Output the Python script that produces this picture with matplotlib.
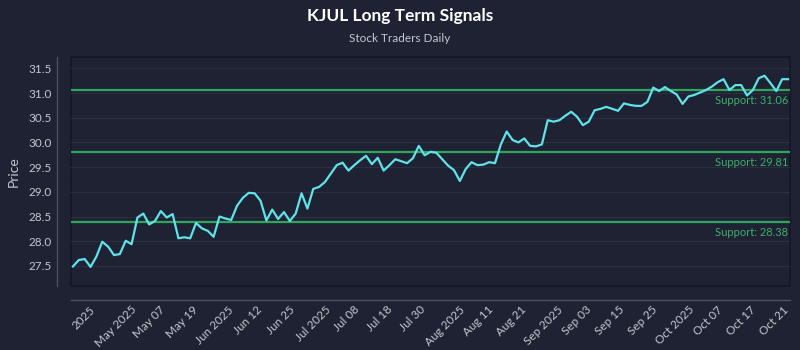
import numpy as np
import matplotlib
matplotlib.use("Agg")
import matplotlib.pyplot as plt

# price values
precos = [
    27.49, 27.62, 27.64, 27.48, 27.69, 27.99, 27.89, 27.72, 27.74, 28.01,
    27.94, 28.48, 28.56, 28.34, 28.41, 28.61, 28.48, 28.55, 28.06, 28.08,
    28.06, 28.37, 28.26, 28.21, 28.09, 28.50, 28.46, 28.43, 28.72, 28.88,
    28.98, 28.97, 28.82, 28.42, 28.64, 28.45, 28.59, 28.41, 28.56, 28.97,
    28.66,
    29.06, 29.10, 29.20, 29.37, 29.54, 29.59, 29.43, 29.54, 29.64, 29.73,
    29.56, 29.69, 29.43, 29.54, 29.66, 29.62, 29.58, 29.68, 29.93, 29.74,
    29.81, 29.79, 29.66, 29.53, 29.44, 29.22, 29.46, 29.60, 29.54, 29.55,
    29.60, 29.58, 29.96, 30.22, 30.05, 30.00, 30.08, 29.93, 29.92, 29.96,
    30.45, 30.42, 30.45, 30.54, 30.62, 30.52, 30.35, 30.42, 30.65, 30.68,
    30.72, 30.68, 30.64, 30.79, 30.76, 30.74, 30.74, 30.82, 31.11, 31.04,
    31.12, 31.04, 30.97, 30.78, 30.93, 30.96, 31.01, 31.06, 31.13, 31.22,
    31.28, 31.06, 31.16, 31.16, 30.95, 31.06, 31.30, 31.35, 31.20, 31.04,
    31.28, 31.28,
]

suportes = [31.06, 29.81, 28.38]

rotulos_x = [
    "2025", "May 2025", "May 07", "May 19", "Jun 2025", "Jun 12", "Jun 25",
    "Jul 2025", "Jul 08", "Jul 18", "Jul 30", "Aug 2025", "Aug 11", "Aug 21",
    "Sep 2025", "Sep 03", "Sep 15", "Sep 25", "Oct 2025", "Oct 07", "Oct 17",
    "Oct 21",
]
rotulos_y = [27.5, 28.0, 28.5, 29.0, 29.5, 30.0, 30.5, 31.0, 31.5]

# cores
FUNDO = "#1e2232"
MOLDURA = "#141824"
TEXTO = "#c3c7cf"
CIANO = "#5fe3ea"
VERDE = "#2fa65c"
VERDE_TXT = "#3db06a"
GRADE = "#2a3040"

plt.rcParams["font.family"] = ["Lato", "DejaVu Sans"]

x = np.arange(len(precos))

fig = plt.figure(figsize=(8, 3.5), dpi=100, facecolor=FUNDO)
ax = fig.add_axes([0.089, 0.183, 0.899, 0.655])
ax.set_facecolor(FUNDO)
ax.patch.set_edgecolor(MOLDURA)
ax.patch.set_linewidth(1.2)

ax.grid(axis="y", color=GRADE, linewidth=0.8)
ax.set_axisbelow(True)

for nivel in suportes:
    ax.axhline(nivel, color=VERDE, linewidth=1.6, zorder=2)
    ax.annotate(f"Support: {nivel:.2f}", xy=(x[-1], nivel), xytext=(0, -3.5),
                textcoords="offset points", ha="right", va="top",
                color=VERDE_TXT, fontsize=8)

ax.plot(x, precos, color=CIANO, linewidth=1.6, zorder=3)

ax.set_xlim(-0.3, len(precos) - 0.6)
ax.set_ylim(27.095, 31.735)

ax.tick_params(axis="both", length=0, colors=TEXTO, labelsize=8.5)
ax.tick_params(axis="y", pad=4)
ax.tick_params(axis="x", pad=3, labelrotation=45)

ax.set_yticks(rotulos_y)
ax.set_yticklabels([f"{v:.1f}" for v in rotulos_y])
ax.set_xticks(np.linspace(1.8, 119.6, len(rotulos_x)))
ax.set_xticklabels(rotulos_x)
plt.setp(ax.get_xticklabels(), ha="right", rotation=45)

for lado in ["top", "right"]:
    ax.spines[lado].set_visible(False)
for lado in ["left", "bottom"]:
    ax.spines[lado].set_position(("outward", 10))
    ax.spines[lado].set_color("#4b5162")
    ax.spines[lado].set_linewidth(1)

ax.set_ylabel("Price", color=TEXTO, fontsize=10, labelpad=6)

fig.text(0.5, 0.955, "KJUL Long Term Signals", ha="center", va="center",
         color="white", fontsize=12.5, fontweight="bold")
fig.text(0.5, 0.89, "Stock Traders Daily", ha="center", va="center",
         color=TEXTO, fontsize=8.5)

plt.savefig("out.png", dpi=100, facecolor=FUNDO)
